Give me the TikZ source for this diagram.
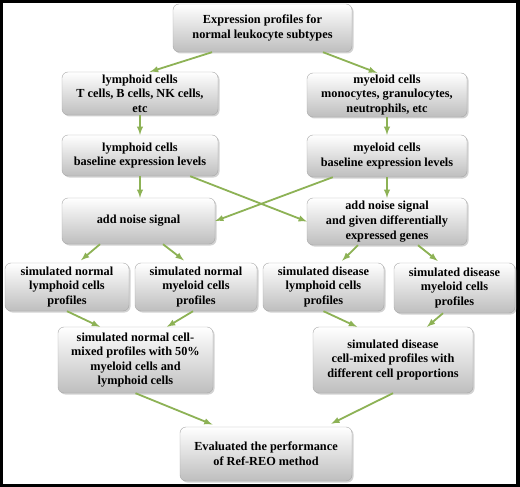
\documentclass[tikz,border=0pt]{standalone}
\usepackage{fontspec}
\setmainfont{Liberation Serif}
\usetikzlibrary{shadows}
\definecolor{arrowgreen}{HTML}{8DB255}
\definecolor{boxline}{HTML}{A8A8A8}
\definecolor{boxbottom}{HTML}{BEBEBE}
\begin{document}
\begin{tikzpicture}[x=1pt,y=-1pt,
    stage/.style={draw=boxline,rounded corners=6pt,top color=white,bottom color=boxbottom,
      drop shadow={shadow xshift=1.5pt,shadow yshift=-1.5pt,opacity=0.35},
      align=center,inner sep=1pt,font=\fontsize{12.3}{14.6}\selectfont\bfseries},
    flow/.style={>=latex,->,draw=arrowgreen,line width=1.8pt}]
    \useasboundingbox (0,0) rectangle (520,487);
    \fill[black] (0,0) rectangle (520,487);
    \fill[white] (3,3) rectangle (516,484);
    \node[stage,minimum width=179,minimum height=48](top)at(262.5,28){Expression profiles for\\normal leukocyte subtypes};
    \node[stage,minimum width=156,minimum height=43](lym)at(140,93.5){lymphoid cells\\T cells, B cells, NK cells,\\etc};
    \node[stage,minimum width=160,minimum height=44](mye)at(387,95){myeloid cells\\monocytes, granulocytes,\\neutrophils, etc};
    \node[stage,minimum width=156,minimum height=41](lymb)at(140,155.5){lymphoid cells\\baseline expression levels};
    \node[stage,minimum width=160,minimum height=42](myeb)at(387,156){myeloid cells\\baseline expression levels};
    \node[stage,minimum width=153,minimum height=46](noise)at(138.5,221){add noise signal};
    \node[stage,minimum width=160,minimum height=47](noised)at(387,221.5){add noise signal\\and given differentially\\expressed genes};
    \node[stage,minimum width=124,minimum height=48](snl)at(67,287){simulated normal\\lymphoid cells\\profiles};
    \node[stage,minimum width=122,minimum height=48](snm)at(196,287){simulated normal\\myeloid cells\\profiles};
    \node[stage,minimum width=121,minimum height=48](sdl)at(323.5,287){simulated disease\\lymphoid cells\\profiles};
    \node[stage,minimum width=121,minimum height=50](sdm)at(454.5,288){simulated disease\\myeloid cells\\profiles};
    \node[stage,minimum width=155,minimum height=66](nmix)at(135.5,360){simulated normal cell-\\mixed profiles with 50\%\\myeloid cells and\\lymphoid cells};
    \node[stage,minimum width=160,minimum height=66](dmix)at(393,360){simulated disease\\cell-mixed profiles with\\different cell proportions};
    \node[stage,minimum width=172,minimum height=54](eval)at(266,454){Evaluated the performance\\of Ref-REO method};
    % arrows
    \draw[flow] ([xshift=-50.5]top.south) -- ([xshift=10]lym.north);
    \draw[flow] ([xshift=60.5]top.south) -- ([xshift=-10]mye.north);
    \draw[flow] (lym.south) -- (lymb.north);
    \draw[flow] (mye.south) -- (myeb.north);
    \draw[flow] (lymb.south) -- (lymb.south |- noise.north);
    \draw[flow] (myeb.south) -- (noised.north);
    \draw[flow] ([xshift=-28]lymb.south east) -- (noised.west);
    \draw[flow] ([xshift=26]myeb.south west) -- (noise.east);
    \draw[flow,shorten >=4pt] ([xshift=-38.5]noise.south) -- ([xshift=11]snl.north);
    \draw[flow,shorten >=4pt] ([xshift=24.5]noise.south) -- ([xshift=-9]snm.north);
    \draw[flow,shorten >=3pt] ([xshift=-29]noised.south) -- ([xshift=16.5]sdl.north);
    \draw[flow,shorten >=3pt] ([xshift=31]noised.south) -- ([xshift=-14.5]sdm.north);
    \draw[flow] (snl.south) -- ([xshift=-35.5]nmix.north);
    \draw[flow] ([xshift=-3]snm.south) -- ([xshift=31.5]nmix.north);
    \draw[flow] (sdl.south) -- ([xshift=-36]dmix.north);
    \draw[flow] ([xshift=-11.5]sdm.south) -- ([xshift=34]dmix.north);
    \draw[flow,shorten >=6pt] (nmix.south) -- ([xshift=-48]eval.north);
    \draw[flow,shorten >=7pt] (dmix.south) -- ([xshift=59]eval.north);
\end{tikzpicture}
\end{document}
